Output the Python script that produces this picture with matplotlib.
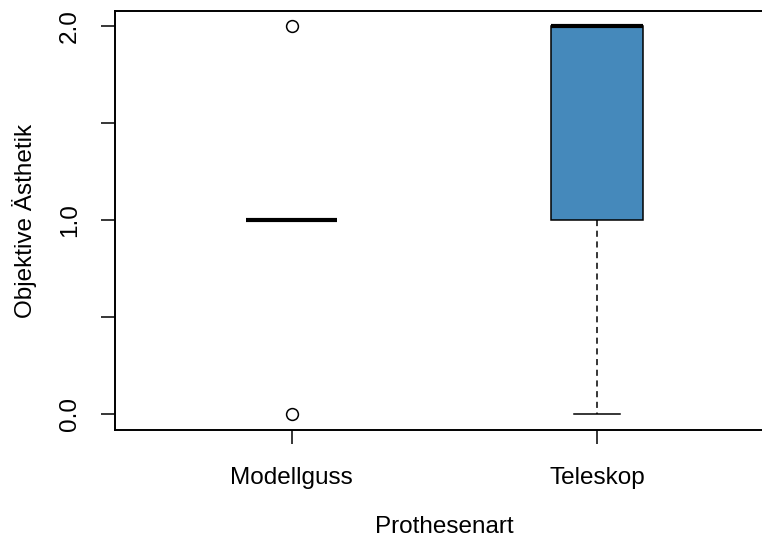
import matplotlib
matplotlib.use("Agg")
import matplotlib.pyplot as plt

plt.rcParams['font.family'] = ['Liberation Sans', 'DejaVu Sans']

# group summaries
groups = ["Modellguss", "Teleskop"]
whisker_low = [1.0, 0.0]
q1 = [1.0, 1.0]
median = [1.0, 2.0]
q3 = [1.0, 2.0]
whisker_high = [1.0, 2.0]
outliers = [[0.0, 2.0], []]

yticks = [0.0, 0.5, 1.0, 1.5, 2.0]
ytick_labels = ["0.0", "", "1.0", "", "2.0"]

box_color = "#4589BB"

stats = []
for i, name in enumerate(groups):
    stats.append(dict(label=name, whislo=whisker_low[i], q1=q1[i], med=median[i],
                      q3=q3[i], whishi=whisker_high[i], fliers=outliers[i]))

fig = plt.figure(figsize=(7.62, 5.37), dpi=100)
ax = fig.add_axes([0.1503, 0.1993, 0.8655, 0.7803])

ax.bxp(stats, positions=[1, 2], widths=0.3, patch_artist=True, showfliers=True,
       boxprops=dict(facecolor=box_color, edgecolor="black", linewidth=1.1),
       medianprops=dict(color="black", linewidth=3, solid_capstyle="butt"),
       whiskerprops=dict(color="black", linewidth=1.1, linestyle=(0, (4, 3))),
       capprops=dict(color="black", linewidth=1.1),
       capwidths=0.15,
       flierprops=dict(marker="o", markersize=8.5, markerfacecolor="none",
                       markeredgecolor="black", markeredgewidth=1.1))

ax.set_xlim(0.42, 2.58)
ax.set_ylim(-0.08, 2.08)
ax.set_yticks(yticks)
ax.set_yticklabels(ytick_labels, rotation=90, va="center")
ax.set_xticks([1, 2])
ax.set_xticklabels(groups)

for s in ax.spines.values():
    s.set_linewidth(1.4)
ax.tick_params(axis="both", direction="out", length=10, width=1.1, labelsize=17.5)
ax.tick_params(axis="x", pad=17)
ax.tick_params(axis="y", pad=14)

ax.set_xlabel("Prothesenart", fontsize=17.5, labelpad=19)
ax.set_ylabel("Objektive Ästhetik", fontsize=17.5, labelpad=16)

fig.savefig("out.png", dpi=100)
